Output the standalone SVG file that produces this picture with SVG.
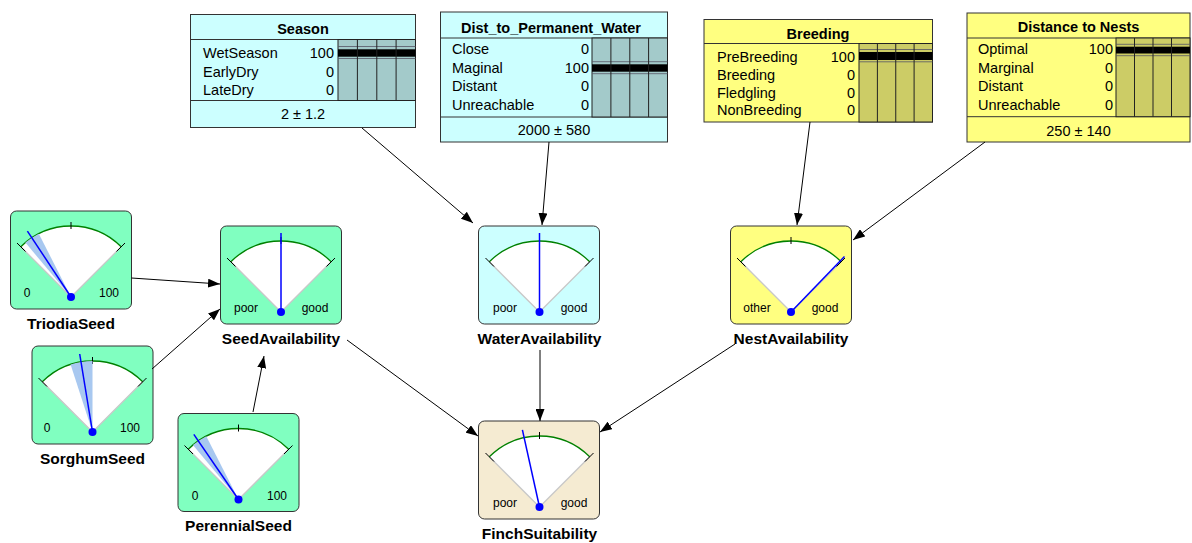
<svg xmlns="http://www.w3.org/2000/svg" width="1192" height="543" viewBox="0 0 1192 543">
<style>
text{font-family:"Liberation Sans",Arial,sans-serif;fill:#000}
.tt{font-size:14.5px;font-weight:bold;text-anchor:middle}
.row{font-size:14.5px}
.num{font-size:14.5px;text-anchor:end}
.val{font-size:14.5px;text-anchor:middle}
.gl{font-size:12px;text-anchor:middle}
.gt{font-size:15.5px;font-weight:bold;text-anchor:middle}
.bc{fill:#ccffff;stroke:#333;stroke-width:1}
.by{fill:#ffff80;stroke:#333;stroke-width:1}
.sep{stroke:#333;stroke-width:1}
.barc{fill:#a3caca;stroke:#222;stroke-width:1}
.bary{fill:#cccc66;stroke:#222;stroke-width:1}
.col{stroke:#222;stroke-width:1}
.blk{fill:#000}
.gline{stroke:#556;stroke-width:0.8}
.gb{stroke:#333;stroke-width:1;rx:6;ry:6}
.mint{fill:#80ffc0}
.cyan{fill:#ccffff}
.yel{fill:#ffff80}
.beige{fill:#f5ebd2}
.shade{fill:#a8c8f0}
.needle{stroke:#0000ff;stroke-width:1.5;fill:none}
.dot{fill:#0000ff}
.conn line{stroke:#000;stroke-width:1;marker-end:url(#ah)}
</style>
<defs>
<marker id="ah" markerUnits="userSpaceOnUse" markerWidth="13" markerHeight="9" refX="12" refY="4.5" orient="auto">
<path d="M0,0 L12,4.5 L0,9 Z" fill="#000"/>
</marker>
<g id="face">
<path d="M0,0 L-50.2,-50.2 A71,71 0 0 1 50.2,-50.2 Z" fill="#fff"/>
<path d="M0,0 L-50.2,-50.2 M0,0 L50.2,-50.2" stroke="#c8c8c8" stroke-width="1.3" fill="none"/>
<path d="M-50.2,-50.2 A71,71 0 0 1 50.2,-50.2" stroke="#008000" stroke-width="1.3" fill="none"/>
<path d="M-45.5,-45.5 L-54,-54 M45.5,-45.5 L54,-54 M0,-68 L0,-75" stroke="#000" stroke-width="1" fill="none"/>
</g>
</defs>

<g id="Season">
<rect x="190.5" y="14.5" width="225" height="113" class="bc"/>
<line x1="190.5" y1="39.5" x2="415.5" y2="39.5" class="sep"/>
<line x1="190.5" y1="100.5" x2="415.5" y2="100.5" class="sep"/>
<rect x="338" y="39.5" width="77.5" height="61" class="barc"/>
<line x1="338" y1="46.5" x2="415.5" y2="46.5" class="gline"/>
<rect x="338" y="49.3" width="77.5" height="7.4" class="blk"/>
<line x1="338" y1="58.5" x2="415.5" y2="58.5" class="gline"/>
<line x1="357.4" y1="39.5" x2="357.4" y2="100.5" class="col"/>
<line x1="376.8" y1="39.5" x2="376.8" y2="100.5" class="col"/>
<line x1="396.1" y1="39.5" x2="396.1" y2="100.5" class="col"/>
<text x="303" y="34" class="tt">Season</text>
<text x="203" y="58" class="row">WetSeason</text><text x="334" y="58" class="num">100</text>
<text x="203" y="76.7" class="row">EarlyDry</text><text x="334" y="76.7" class="num">0</text>
<text x="203" y="95.2" class="row">LateDry</text><text x="334" y="95.2" class="num">0</text>
<text x="303" y="118.5" class="val">2 ± 1.2</text>
</g>

<g id="Dist_to_Permanent_Water">
<rect x="440.5" y="12" width="227" height="130" class="bc"/>
<line x1="440.5" y1="38" x2="667.5" y2="38" class="sep"/>
<line x1="440.5" y1="117" x2="667.5" y2="117" class="sep"/>
<rect x="592" y="38" width="75.5" height="79" class="barc"/>
<line x1="592" y1="61.7" x2="667.5" y2="61.7" class="gline"/>
<rect x="592" y="64.3" width="75.5" height="7.4" class="blk"/>
<line x1="592" y1="73.7" x2="667.5" y2="73.7" class="gline"/>
<line x1="610.9" y1="38" x2="610.9" y2="117" class="col"/>
<line x1="629.8" y1="38" x2="629.8" y2="117" class="col"/>
<line x1="648.6" y1="38" x2="648.6" y2="117" class="col"/>
<text x="551" y="33" class="tt">Dist_to_Permanent_Water</text>
<text x="452" y="53.5" class="row">Close</text><text x="589" y="53.5" class="num">0</text>
<text x="452" y="72.9" class="row">Maginal</text><text x="589" y="72.9" class="num">100</text>
<text x="452" y="91.2" class="row">Distant</text><text x="589" y="91.2" class="num">0</text>
<text x="452" y="109.5" class="row">Unreachable</text><text x="589" y="109.5" class="num">0</text>
<text x="554" y="135.2" class="val">2000 ± 580</text>
</g>

<g id="Breeding">
<rect x="704" y="19.5" width="228.5" height="102.5" class="by"/>
<line x1="704" y1="43.5" x2="932.5" y2="43.5" class="sep"/>
<rect x="859" y="43.5" width="73.5" height="78.5" class="bary"/>
<line x1="859" y1="49.5" x2="932.5" y2="49.5" class="gline"/>
<rect x="859" y="52" width="73.5" height="8" class="blk"/>
<line x1="859" y1="61.8" x2="932.5" y2="61.8" class="gline"/>
<line x1="877.4" y1="43.5" x2="877.4" y2="122" class="col"/>
<line x1="895.75" y1="43.5" x2="895.75" y2="122" class="col"/>
<line x1="914.1" y1="43.5" x2="914.1" y2="122" class="col"/>
<text x="818" y="38.5" class="tt">Breeding</text>
<text x="717" y="61.9" class="row">PreBreeding</text><text x="855" y="61.9" class="num">100</text>
<text x="717" y="79.7" class="row">Breeding</text><text x="855" y="79.7" class="num">0</text>
<text x="717" y="97.5" class="row">Fledgling</text><text x="855" y="97.5" class="num">0</text>
<text x="717" y="115.3" class="row">NonBreeding</text><text x="855" y="115.3" class="num">0</text>
</g>

<g id="Distance_to_Nests">
<rect x="967" y="13" width="223" height="129" class="by"/>
<line x1="967" y1="38" x2="1190" y2="38" class="sep"/>
<line x1="967" y1="116.7" x2="1190" y2="116.7" class="sep"/>
<rect x="1116" y="38" width="74" height="78.7" class="bary"/>
<line x1="1116" y1="44.3" x2="1190" y2="44.3" class="gline"/>
<rect x="1116" y="46.7" width="74" height="6.8" class="blk"/>
<line x1="1116" y1="55.7" x2="1190" y2="55.7" class="gline"/>
<line x1="1134.5" y1="38" x2="1134.5" y2="116.7" class="col"/>
<line x1="1153" y1="38" x2="1153" y2="116.7" class="col"/>
<line x1="1171.5" y1="38" x2="1171.5" y2="116.7" class="col"/>
<text x="1078.5" y="32.2" class="tt">Distance to Nests</text>
<text x="978" y="53.5" class="row">Optimal</text><text x="1113" y="53.5" class="num">100</text>
<text x="978" y="72.9" class="row">Marginal</text><text x="1113" y="72.9" class="num">0</text>
<text x="978" y="91.2" class="row">Distant</text><text x="1113" y="91.2" class="num">0</text>
<text x="978" y="109.5" class="row">Unreachable</text><text x="1113" y="109.5" class="num">0</text>
<text x="1078.5" y="136" class="val">250 ± 140</text>
</g>

<g id="TriodiaSeed">
<rect x="10.5" y="211" width="121" height="98" class="gb mint"/>
<use href="#face" transform="translate(71,297)"/>
<path d="M71,297 l-45.6,-54.4 A71,71 0 0 1 38.8,233.7 Z" class="shade"/>
<line x1="71" y1="297" x2="27.4" y2="231.1" class="needle"/>
<circle cx="71" cy="297" r="4" class="dot"/>
<text x="27" y="297" class="gl">0</text>
<text x="109" y="297" class="gl">100</text>
<text x="71" y="329" class="gt">TriodiaSeed</text>
</g>

<g id="SeedAvailability">
<rect x="220.5" y="226" width="121" height="98" class="gb mint"/>
<use href="#face" transform="translate(281,312)"/>
<line x1="281" y1="312" x2="281" y2="233" class="needle"/>
<circle cx="281" cy="312" r="4" class="dot"/>
<text x="246" y="312" class="gl">poor</text>
<text x="315" y="312" class="gl">good</text>
<text x="281" y="344" class="gt">SeedAvailability</text>
</g>

<g id="WaterAvailability">
<rect x="478.5" y="226" width="121" height="98" class="gb cyan"/>
<use href="#face" transform="translate(539.5,312)"/>
<line x1="539.5" y1="312" x2="539.5" y2="233" class="needle"/>
<circle cx="539.5" cy="312" r="4" class="dot"/>
<text x="505" y="312" class="gl">poor</text>
<text x="574" y="312" class="gl">good</text>
<text x="539.5" y="344" class="gt">WaterAvailability</text>
</g>

<g id="NestAvailability">
<rect x="730.5" y="226" width="121" height="98" class="gb yel"/>
<use href="#face" transform="translate(791,312)"/>
<line x1="791" y1="312" x2="844.5" y2="256.6" class="needle"/>
<circle cx="791" cy="312" r="4" class="dot"/>
<text x="757" y="312" class="gl">other</text>
<text x="825" y="312" class="gl">good</text>
<text x="791" y="344" class="gt">NestAvailability</text>
</g>

<g id="SorghumSeed">
<rect x="32" y="346" width="121" height="98" class="gb mint"/>
<use href="#face" transform="translate(92.5,432)"/>
<path d="M92.5,432 l-21.9,-67.5 A71,71 0 0 1 92.5,361 Z" class="shade"/>
<line x1="92.5" y1="432" x2="79.7" y2="354" class="needle"/>
<circle cx="92.5" cy="432" r="4" class="dot"/>
<text x="47" y="432" class="gl">0</text>
<text x="130" y="432" class="gl">100</text>
<text x="92.5" y="464" class="gt">SorghumSeed</text>
</g>

<g id="PerennialSeed">
<rect x="178" y="413.5" width="121" height="98" class="gb mint"/>
<use href="#face" transform="translate(238.5,499.5)"/>
<path d="M238.5,499.5 l-45.6,-54.4 A71,71 0 0 1 206.3,436.2 Z" class="shade"/>
<line x1="238.5" y1="499.5" x2="193.8" y2="434.4" class="needle"/>
<circle cx="238.5" cy="499.5" r="4" class="dot"/>
<text x="195" y="499.5" class="gl">0</text>
<text x="277" y="499.5" class="gl">100</text>
<text x="238.5" y="531" class="gt">PerennialSeed</text>
</g>

<g id="FinchSuitability">
<rect x="478.5" y="421" width="121" height="98" class="gb beige"/>
<use href="#face" transform="translate(539.5,507)"/>
<line x1="539.5" y1="507" x2="522.4" y2="429.9" class="needle"/>
<circle cx="539.5" cy="507" r="4" class="dot"/>
<text x="505" y="507" class="gl">poor</text>
<text x="574" y="507" class="gl">good</text>
<text x="539.5" y="539" class="gt">FinchSuitability</text>
</g>

<g id="connectors" class="conn">
<line x1="131.5" y1="278" x2="220" y2="284"/>
<line x1="152" y1="369" x2="220" y2="309"/>
<line x1="253" y1="412" x2="264" y2="356"/>
<line x1="362" y1="128" x2="473" y2="223"/>
<line x1="549" y1="142" x2="542" y2="225"/>
<line x1="810" y1="122" x2="797" y2="225"/>
<line x1="985" y1="142" x2="853" y2="240"/>
<line x1="347" y1="340" x2="478" y2="436"/>
<line x1="540" y1="350" x2="540" y2="421"/>
<line x1="735" y1="344" x2="600" y2="432"/>
</g>
</svg>
